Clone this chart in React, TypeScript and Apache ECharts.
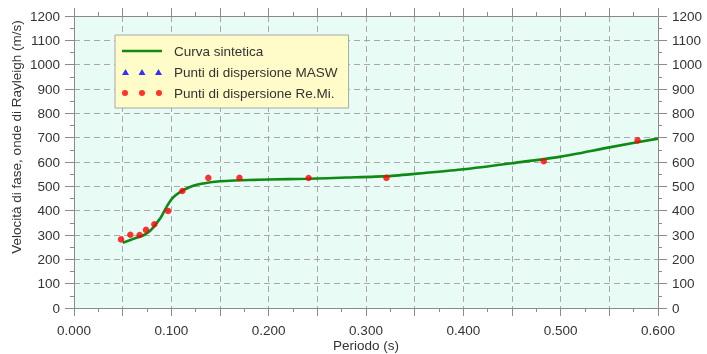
import React, { useEffect, useRef } from "react";
import * as echarts from "echarts";

const curveX = [0.050, 0.055, 0.061, 0.066, 0.072, 0.077, 0.082, 0.086, 0.089, 0.093, 0.096, 0.100, 0.105, 0.111, 0.118, 0.126, 0.133, 0.140, 0.150, 0.165, 0.180, 0.200, 0.240, 0.280, 0.322, 0.360, 0.400, 0.450, 0.500, 0.550, 0.600];
const curveY = [268, 275, 284, 291, 300, 313, 333, 355, 371, 400, 422, 446, 465, 481, 495, 506, 512, 517, 521, 524, 526, 528, 531, 536, 542, 555, 570, 595, 622, 660, 696];

const remiX = [0.0483, 0.0579, 0.0674, 0.074, 0.0825, 0.0966, 0.1113, 0.138, 0.170, 0.241, 0.321, 0.4826, 0.579];
const remiY = [282, 301, 300, 321, 344, 399, 481, 535, 535, 534, 535, 603, 689];

const maswX: number[] = [];
const maswY: number[] = [];

const seriesNames = ["Curva sintetica", "Punti di dispersione MASW", "Punti di dispersione Re.Mi."];
const xTitle = "Periodo (s)";
const yTitle = "Velocità di fase, onde di Rayleigh (m/s)";

const FONT = "'Liberation Sans', Arial, sans-serif";
const TXT = "#333333";
const AXC = "#8a8a8a";

export default function App() {
  const ref = useRef<HTMLDivElement>(null);
  useEffect(() => {
    if (!ref.current) return;
    const chart = echarts.init(ref.current, undefined, { renderer: "svg" });
    const tickStyle = { show: true, inside: false, length: 8, lineStyle: { color: AXC } };
    const minor = { show: true, splitNumber: 2, length: 4, lineStyle: { color: AXC } };
    const axLine = { show: true, onZero: false, lineStyle: { color: AXC, width: 1 } };
    const dashed = { show: true, lineStyle: { color: "#a8a8a8", type: [6, 4] as any, width: 1 } };
    const xFmt = (v: number) => (Math.round(v * 1000) % 100 === 0 ? v.toFixed(3) : "");
    const yFmt = (v: number) => String(Math.round(v));
    chart.setOption({
      animation: false,
      textStyle: { fontFamily: FONT },
      grid: {
        left: 74, right: 49, top: 16, bottom: 46, containLabel: false, outerBoundsMode: "none",
        show: true, backgroundColor: "#e8fbf5", borderWidth: 0,
      },
      legend: {
        orient: "vertical",
        left: 115,
        top: 35,
        padding: [9, 11, 8, 7],
        itemGap: 7,
        itemWidth: 40,
        itemHeight: 6,
        backgroundColor: "#fffcc9",
        borderColor: "#a8a8a8",
        borderWidth: 1,
        textStyle: { fontFamily: FONT, fontSize: 13.5, color: TXT, lineHeight: 14, padding: [0, 0, 0, 7] },
        data: [
          { name: seriesNames[0], icon: "path://M0,0H40V2.6H0Z" },
          { name: seriesNames[1], icon: "path://M0,6L3.5,0L7,6Z M16.5,6L20,0L23.5,6Z M33,6L36.5,0L40,6Z" },
          { name: seriesNames[2], icon: "path://M0,3A3,3 0 1,1 6,3A3,3 0 1,1 0,3Z M17,3A3,3 0 1,1 23,3A3,3 0 1,1 17,3Z M34,3A3,3 0 1,1 40,3A3,3 0 1,1 34,3Z" },
        ],
      },
      xAxis: [
        {
          type: "value", position: "bottom", min: 0, max: 0.6, interval: 0.05,
          name: xTitle, nameLocation: "middle", nameGap: 31, nameMoveOverlap: false,
          nameTextStyle: { fontFamily: FONT, fontSize: 13.5, color: TXT, lineHeight: 13 },
          axisLine: axLine, axisTick: tickStyle, minorTick: minor,
          axisLabel: { formatter: xFmt, fontFamily: FONT, fontSize: 13.5, color: TXT, margin: 15, showMinLabel: true, showMaxLabel: true },
          splitLine: dashed,
        },
        {
          type: "value", position: "top", min: 0, max: 0.6, interval: 0.05,
          axisLine: axLine, axisTick: tickStyle, minorTick: minor,
          axisLabel: { show: false }, splitLine: { show: false },
        },
      ],
      yAxis: [
        {
          type: "value", position: "left", min: 0, max: 1200, interval: 100,
          axisLine: axLine, axisTick: { ...tickStyle, length: 9 }, minorTick: minor,
          axisLabel: { formatter: yFmt, fontFamily: FONT, fontSize: 13.5, color: TXT, margin: 14 },
          splitLine: dashed,
        },
        {
          type: "value", position: "right", min: 0, max: 1200, interval: 100,
          axisLine: axLine, axisTick: { ...tickStyle, length: 9 }, minorTick: minor,
          axisLabel: { formatter: yFmt, fontFamily: FONT, fontSize: 13.5, color: TXT, margin: 14 },
          splitLine: { show: false },
        },
      ],
      graphic: [
        {
          type: "text", x: 16, y: 137, rotation: Math.PI / 2,
          style: { text: yTitle, fontFamily: FONT, fontSize: 13.5, fill: TXT, align: "center", verticalAlign: "middle" },
        },
      ],
      series: [
        {
          name: seriesNames[0], type: "line", symbol: "none", smooth: 0.25,
          data: curveX.map((x, i) => [x, curveY[i]]),
          lineStyle: { color: "#0f8a14", width: 2.6 }, itemStyle: { color: "#0f8a14" }, z: 3,
        },
        {
          name: seriesNames[1], type: "scatter", symbol: "triangle", symbolSize: 7,
          data: maswX.map((x, i) => [x, maswY[i]]),
          itemStyle: { color: "#0000ff" },
        },
        {
          name: seriesNames[2], type: "scatter", symbol: "circle", symbolSize: 6.5,
          data: remiX.map((x, i) => [x, remiY[i]]),
          itemStyle: { color: "#ff0000" }, z: 4,
        },
      ],
    });
    return () => chart.dispose();
  }, []);
  return <div ref={ref} style={{ position: "fixed", left: 0, top: 0, width: 707, height: 354 }} />;
}
